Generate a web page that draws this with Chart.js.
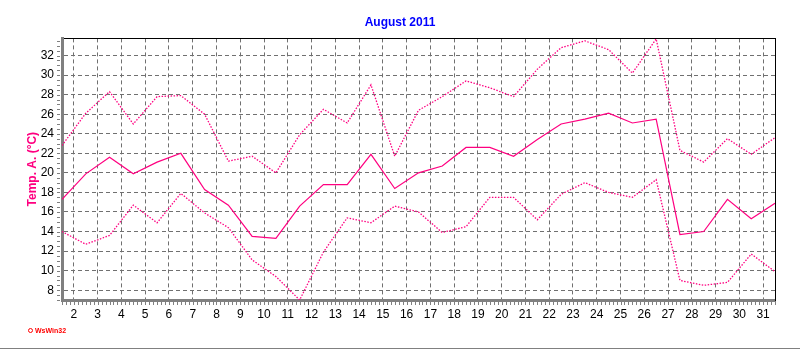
<!DOCTYPE html>
<html lang="en">
<head>
  <meta charset="UTF-8" />
  <title>August 2011 - Temp. A.</title>
  <script src="https://cdn.jsdelivr.net/npm/chart.js"></script>
  <style>
    body { margin: 0; background: #fff; }
    .wrap { position: relative; width: 800px; height: 350px; }
    .frame { position: absolute; left: 0; top: 348px; width: 800px; height: 1px; background: #808080; }
    .logo { position: absolute; left: 28px; top: 326px; font: bold 7px "Liberation Sans", Arial, sans-serif; color: #ff0000; line-height: 9px; }
    .logo span { display: inline-block; width: 3px; height: 3px; border: 1px solid #ff0000; border-radius: 50%; margin-right: 2px; vertical-align: 0px; }
  </style>
</head>
<body>
  <div class="wrap">
    <canvas id="tempChart" width="800" height="350"></canvas>
    <div class="logo"><span></span>WsWin32</div>
    <div class="frame"></div>
  </div>

  <script>
    // one value per day, plotted at midday
    const days = [1.5, 2.5, 3.5, 4.5, 5.5, 6.5, 7.5, 8.5, 9.5, 10.5, 11.5, 12.5, 13.5, 14.5, 15.5, 16.5,
                  17.5, 18.5, 19.5, 20.5, 21.5, 22.5, 23.5, 24.5, 25.5, 26.5, 27.5, 28.5, 29.5, 30.5, 31.5];
    const tMax = [22.8, 26.1, 28.3, 25.0, 27.8, 27.9, 26.0, 21.2, 21.7, 20.0, 23.9, 26.5, 25.1, 29.0, 21.7, 26.4,
                  27.8, 29.4, 28.7, 27.8, 30.6, 32.8, 33.5, 32.6, 30.2, 33.7, 22.3, 21.1, 23.5, 21.9, 23.6];
    const tMean = [17.3, 19.9, 21.6, 19.9, 21.1, 22.0, 18.3, 16.7, 13.5, 13.3, 16.6, 18.8, 18.8, 21.9, 18.4, 20.0,
                   20.7, 22.6, 22.6, 21.7, 23.4, 25.0, 25.5, 26.1, 25.1, 25.5, 13.7, 14.0, 17.3, 15.3, 16.9];
    const tMin = [14.0, 12.7, 13.6, 16.7, 14.9, 17.9, 15.9, 14.4, 11.1, 9.4, 7.0, 11.9, 15.4, 14.9, 16.6, 16.0,
                  13.9, 14.5, 17.5, 17.5, 15.2, 17.8, 19.0, 18.0, 17.5, 19.3, 9.0, 8.5, 8.8, 11.7, 9.9];

    const dayTicks = [2, 3, 4, 5, 6, 7, 8, 9, 10, 11, 12, 13, 14, 15, 16, 17, 18, 19, 20, 21, 22, 23, 24, 25, 26, 27, 28, 29, 30, 31];
    const tempTicks = [8, 10, 12, 14, 16, 18, 20, 22, 24, 26, 28, 30, 32];

    const PINK = '#ff0080';
    const GRID = '#707070';
    const FONT = '"Liberation Sans", Arial, sans-serif';

    function points(values) {
      return days.map((d, i) => ({ x: d, y: values[i] }));
    }

    // small minor ticks on left and bottom axes
    const minorTicks = {
      id: 'minorTicks',
      afterDraw(chart) {
        const { ctx, chartArea, scales } = chart;
        ctx.save();
        ctx.strokeStyle = '#808080';
        ctx.lineWidth = 1;
        ctx.beginPath();
        for (let v = 7; v <= 33.75; v += 0.5) {
          const py = Math.round(scales.y.getPixelForValue(v)) + 0.5;
          ctx.moveTo(chartArea.left - 5, py);
          ctx.lineTo(chartArea.left - 2, py);
        }
        for (let k = 9; k <= 189; k++) {
          const px = Math.round(scales.x.getPixelForValue(k / 6)) + 0.5;
          ctx.moveTo(px, chartArea.bottom + 2);
          ctx.lineTo(px, chartArea.bottom + 5);
        }
        ctx.stroke();
        ctx.restore();
      }
    };

    const lineStyle = { borderColor: PINK, pointRadius: 0, tension: 0, fill: false };
    const dotted = { borderWidth: 1.3, borderDash: [1.5, 1.5] };

    new Chart(document.getElementById('tempChart'), {
      type: 'line',
      data: {
        datasets: [
          { ...lineStyle, ...dotted, label: 'Max', data: points(tMax) },
          { ...lineStyle, label: 'Temp. A.', data: points(tMean), borderWidth: 1.2 },
          { ...lineStyle, ...dotted, label: 'Min', data: points(tMin) }
        ]
      },
      options: {
        responsive: false,
        animation: false,
        layout: { padding: 0 },
        plugins: {
          legend: { display: false },
          tooltip: { enabled: false },
          title: {
            display: true,
            text: 'August 2011',
            color: '#0000ff',
            font: { family: FONT, size: 12, weight: 'bold' },
            padding: { top: 15, bottom: 9 }
          }
        },
        scales: {
          x: {
            type: 'linear',
            position: 'bottom',
            min: 1.5,
            max: 31.5,
            afterBuildTicks: s => { s.ticks = dayTicks.map(v => ({ value: v })); },
            afterFit: s => { s.height = 50; },
            ticks: { color: '#000', font: { family: FONT, size: 12 }, padding: 7, maxRotation: 0, autoSkip: false },
            grid: { color: GRID, lineWidth: 1, drawTicks: false },
            border: { color: '#808080', width: 3, dash: [4, 3] }
          },
          x2: {
            type: 'linear',
            position: 'top',
            afterFit: s => { s.height = 0; },
            ticks: { display: false },
            grid: { drawOnChartArea: false, drawTicks: false },
            border: { color: '#000', width: 1 }
          },
          y: {
            min: 7,
            max: 33.75,
            afterBuildTicks: s => { s.ticks = tempTicks.map(v => ({ value: v })); },
            afterFit: s => { s.width = 62; },
            ticks: { color: '#000', font: { family: FONT, size: 12 }, padding: 8 },
            grid: { color: GRID, lineWidth: 1, drawTicks: false },
            border: { color: '#808080', width: 3, dash: [4, 3] },
            title: {
              display: true,
              text: 'Temp. A. (°C)',
              color: PINK,
              font: { family: FONT, size: 12, weight: 'bold' },
              padding: { top: 25, bottom: 0 }
            }
          },
          y2: {
            position: 'right',
            afterFit: s => { s.width = 25; },
            ticks: { display: false },
            grid: { drawOnChartArea: false, drawTicks: false },
            border: { color: '#000', width: 1 }
          }
        }
      },
      plugins: [minorTicks]
    });
  </script>
</body>
</html>
